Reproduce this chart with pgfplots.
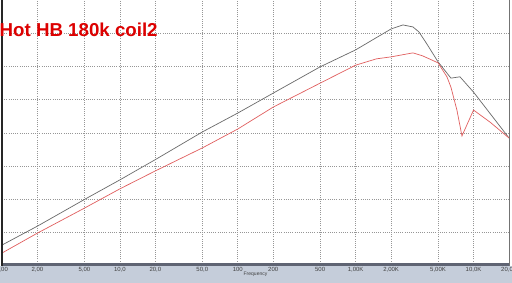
\documentclass[border=0pt]{standalone}
\usepackage{pgfplots}
\pgfplotsset{compat=1.18}
\usepackage{fontspec}
\setmainfont{Liberation Sans}
\definecolor{band}{RGB}{197,205,218}
\definecolor{gridc}{RGB}{150,150,150}
\definecolor{grayc}{RGB}{105,105,105}
\definecolor{redc}{RGB}{225,95,95}
\definecolor{titlec}{RGB}{220,0,0}
\definecolor{rulerc}{RGB}{95,100,115}
\begin{document}
\begin{tikzpicture}[x=1pt,y=1pt]
\useasboundingbox (0,0) rectangle (512,283);
\fill[band] (0,0) rectangle (512,17);
\fill[white] (0,17) rectangle (512,283);
\begin{axis}[
  at={(2pt,17pt)}, anchor=south west,
  scale only axis, width=507pt, height=266pt,
  xmode=log, xmin=1, xmax=20000, ymin=0, ymax=80,
  axis line style={draw=none},
  xtick={1,2,5,10,20,50,100,200,500,1000,2000,5000,10000,20000},
  xticklabels={{1,00},{2,00},{5,00},{10,0},{20,0},{50,0},{100},{200},{500},{1,00K},{2,00K},{5,00K},{10,0K},{20,0K}},
  ytick={10,20,...,70},
  yticklabels={},
  major tick length=0pt,
  minor x tick num=0,
  grid=major,
  major grid style={draw=gridc, line width=0.7pt, dash pattern=on 1pt off 1.2pt},
  xticklabel style={font=\fontsize{6}{6}\selectfont, text=black!75, yshift=2pt},
  xlabel={Frequency},
  xlabel style={font=\fontsize{5}{5}\selectfont, text=black!75, yshift=7.5pt},
  clip=false,
]
\addplot[grayc, line width=0.7pt] coordinates {
(1,6.3) (2,12.0) (5,20.0) (10,25.9) (20,32.0) (50,40.3) (100,46.0) (200,52.0)
(500,59.9) (1000,65.0) (2000,71.3) (2518,72.5) (3062,71.9) (3443,70.4) (4000,66.9)
(5000,61.4) (6430,56.5) (7670,56.9) (10000,52.3) (20000,38.5)};
\addplot[redc, line width=0.7pt] coordinates {
(1,3.9) (2,9.9) (5,17.4) (10,23.2) (20,28.6) (50,35.5) (100,41.2) (200,47.8)
(500,55.0) (1000,60.4) (1500,62.3) (2000,62.9) (3062,64.1) (3700,63.2) (5000,61.1)
(5950,56.9) (6430,53.8) (7230,46.9) (7980,39.1) (10000,46.9) (13770,43.3) (20000,38.5)};
\fill[rulerc] (rel axis cs:0,0) rectangle ([yshift=2.5pt]rel axis cs:1,0);
\draw[black!85, line width=1.6pt] (rel axis cs:0,0) -- (rel axis cs:0,1);
\draw[black!55, line width=0.8pt] (rel axis cs:1,0) -- (rel axis cs:1,1);
\end{axis}
\node[anchor=base west, inner sep=0pt, font=\bfseries\fontsize{18.7}{18.7}\selectfont, text=titlec] at (-0.5,246) {Hot HB 180k coil2};
\end{tikzpicture}
\end{document}
